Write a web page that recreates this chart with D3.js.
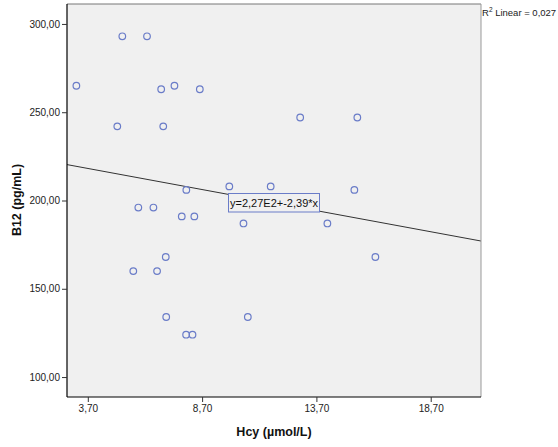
<!DOCTYPE html>
<html><head><meta charset="utf-8">
<script src="https://cdn.jsdelivr.net/npm/d3@7"></script>
<style>body{margin:0;background:#fff}svg{display:block}text{font-family:Arial,"Liberation Sans",sans-serif}</style>
</head><body>
<svg id="c" width="558" height="447"></svg>
<script>
const hcy = [3.2,5.21,6.29,6.91,7.49,8.6,4.99,7.0,8.01,9.89,11.7,5.91,6.57,7.81,8.36,10.51,7.11,5.69,6.73,7.13,10.7,8.0,8.28,12.99,15.49,15.36,14.18,16.28];
const b12 = [265,293,293,263,265,263,242,242,206,208,208,196,196,191,191,187,168,160,160,134,134,124,124,247,247,206,187,168];
const xTicks = [3.7,8.7,13.7,18.7];
const yTicks = [100,150,200,250,300];
const fitIntercept = 227, fitSlope = -2.39;
const fitLabel = "y=2,27E2+-2,39*x";
const r2Label = "0,027";
const xTitle = "Hcy (µmol/L)", yTitle = "B12 (pg/mL)";

const svg = d3.select("#c");
const L=67,R=481,T=4,B=397;
const x = d3.scaleLinear().domain([2.79,20.9]).range([L,R]);
const y = d3.scaleLinear().domain([88.7,311.3]).range([B,T]);
const fmt = d => d.toFixed(2).replace(".",",");

svg.append("rect").attr("x",L).attr("y",T).attr("width",R-L).attr("height",B-T).attr("fill","#f0f0f0");

// regression line
const x0=x.domain()[0], x1=x.domain()[1];
svg.append("line").attr("x1",x(x0)).attr("y1",y(fitIntercept+fitSlope*x0))
  .attr("x2",x(x1)).attr("y2",y(fitIntercept+fitSlope*x1)).attr("stroke","#333").attr("stroke-width",1);

// points
svg.append("g").selectAll("circle").data(hcy.map((v,i)=>[v,b12[i]])).join("circle")
  .attr("cx",d=>x(d[0])).attr("cy",d=>y(d[1])).attr("r",3.3)
  .attr("fill","none").attr("stroke","#6a7cc8").attr("stroke-width",1.2);

// equation label box
const bx = 228.5, by = 193.5, bw = 91, bh = 18.5;
svg.append("rect").attr("x",bx).attr("y",by).attr("width",bw).attr("height",bh)
  .attr("fill","#f0f0f0").attr("stroke","#6a7cc8").attr("stroke-width",1);
svg.append("text").attr("x",bx+1.5).attr("y",by+13.5).attr("font-size",11).attr("fill","#111").text(fitLabel);

// frame
svg.append("line").attr("x1",L).attr("y1",T).attr("x2",R).attr("y2",T).attr("stroke","#777");
svg.append("line").attr("x1",R).attr("y1",T).attr("x2",R).attr("y2",B).attr("stroke","#999");

// axes
const ax = svg.append("g").attr("transform",`translate(0,${B})`)
  .call(d3.axisBottom(x).tickValues(xTicks).tickFormat(fmt).tickSize(5).tickPadding(3));
const ay = svg.append("g").attr("transform",`translate(${L},0)`)
  .call(d3.axisLeft(y).tickValues(yTicks).tickFormat(fmt).tickSize(5).tickPadding(2));
[ax,ay].forEach(g=>{
  g.select(".domain").attr("stroke","#000").attr("stroke-width",1.2);
  g.selectAll(".tick line").attr("stroke","#333");
  g.selectAll(".tick text").attr("font-size",10).attr("fill","#222").attr("font-family","Arial,'Liberation Sans',sans-serif");
});
ax.select(".domain").attr("d",`M${L},0H${R}`);
ay.select(".domain").attr("d",`M0,${T}V${B}`);

// titles
svg.append("text").attr("x",(L+R)/2).attr("y",436).attr("text-anchor","middle")
  .attr("font-size",12.5).attr("font-weight","bold").attr("fill","#111").text(xTitle);
svg.append("text").attr("transform","translate(21,200) rotate(-90)").attr("text-anchor","middle")
  .attr("font-size",12.5).attr("font-weight","bold").attr("fill","#111").text(yTitle);

// R2 label
const t = svg.append("text").attr("x",482).attr("y",16).attr("font-size",9.5).attr("fill","#222");
t.append("tspan").text("R");
t.append("tspan").attr("font-size",6.5).attr("dy",-4).text("2");
t.append("tspan").attr("dy",4).text(" Linear = "+r2Label);
</script>
</body></html>
